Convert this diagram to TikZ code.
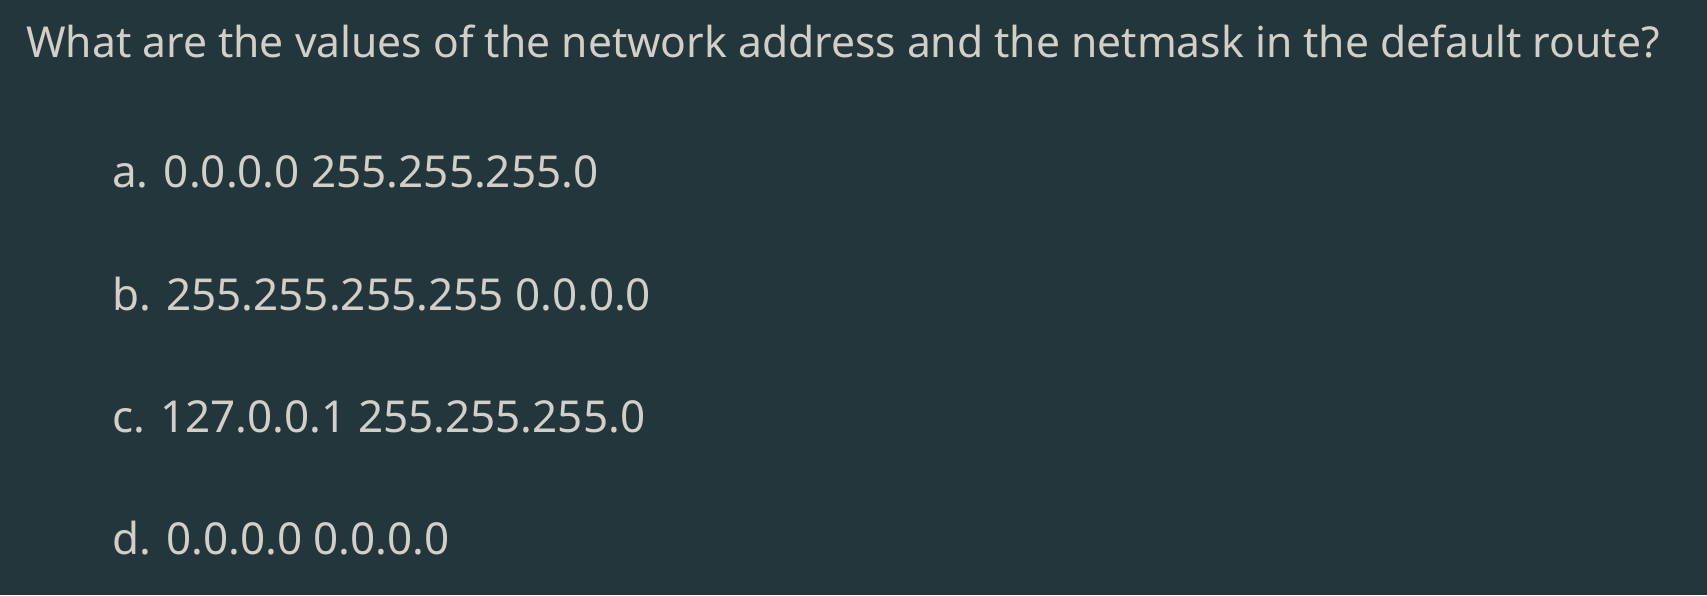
\documentclass[tikz,border=0pt]{standalone}
\usepackage{fontspec}
\setmainfont{Noto Sans}
\newfontfamily\qfont{Noto Sans}
\definecolor{bgcol}{RGB}{35,54,60}
\definecolor{txtcol}{RGB}{210,206,200}
\tikzset{
  question/.style={anchor=base west, inner sep=0pt, text=txtcol, font=\qfont\fontsize{42.6}{50}\selectfont},
  option/.style={anchor=base west, inner sep=0pt, text=txtcol, font=\fontsize{44}{52}\selectfont}
}
\begin{document}
\begin{tikzpicture}[x=1pt,y=-1pt]
\fill[bgcol] (0,0) rectangle (1707,595);
\useasboundingbox (0,0) rectangle (1707,595);
\node[question] (q) at (26,57) {What are the values of the network address and the netmask in the default route?};
\node[option] (a) at (112,187) {a. 0.0.0.0 255.255.255.0};
\node[option] (b) at (112,310) {b. 255.255.255.255 0.0.0.0};
\node[option] (c) at (112,432) {c. 127.0.0.1 255.255.255.0};
\node[option] (d) at (112,554) {d. 0.0.0.0 0.0.0.0};
\end{tikzpicture}
\end{document}
